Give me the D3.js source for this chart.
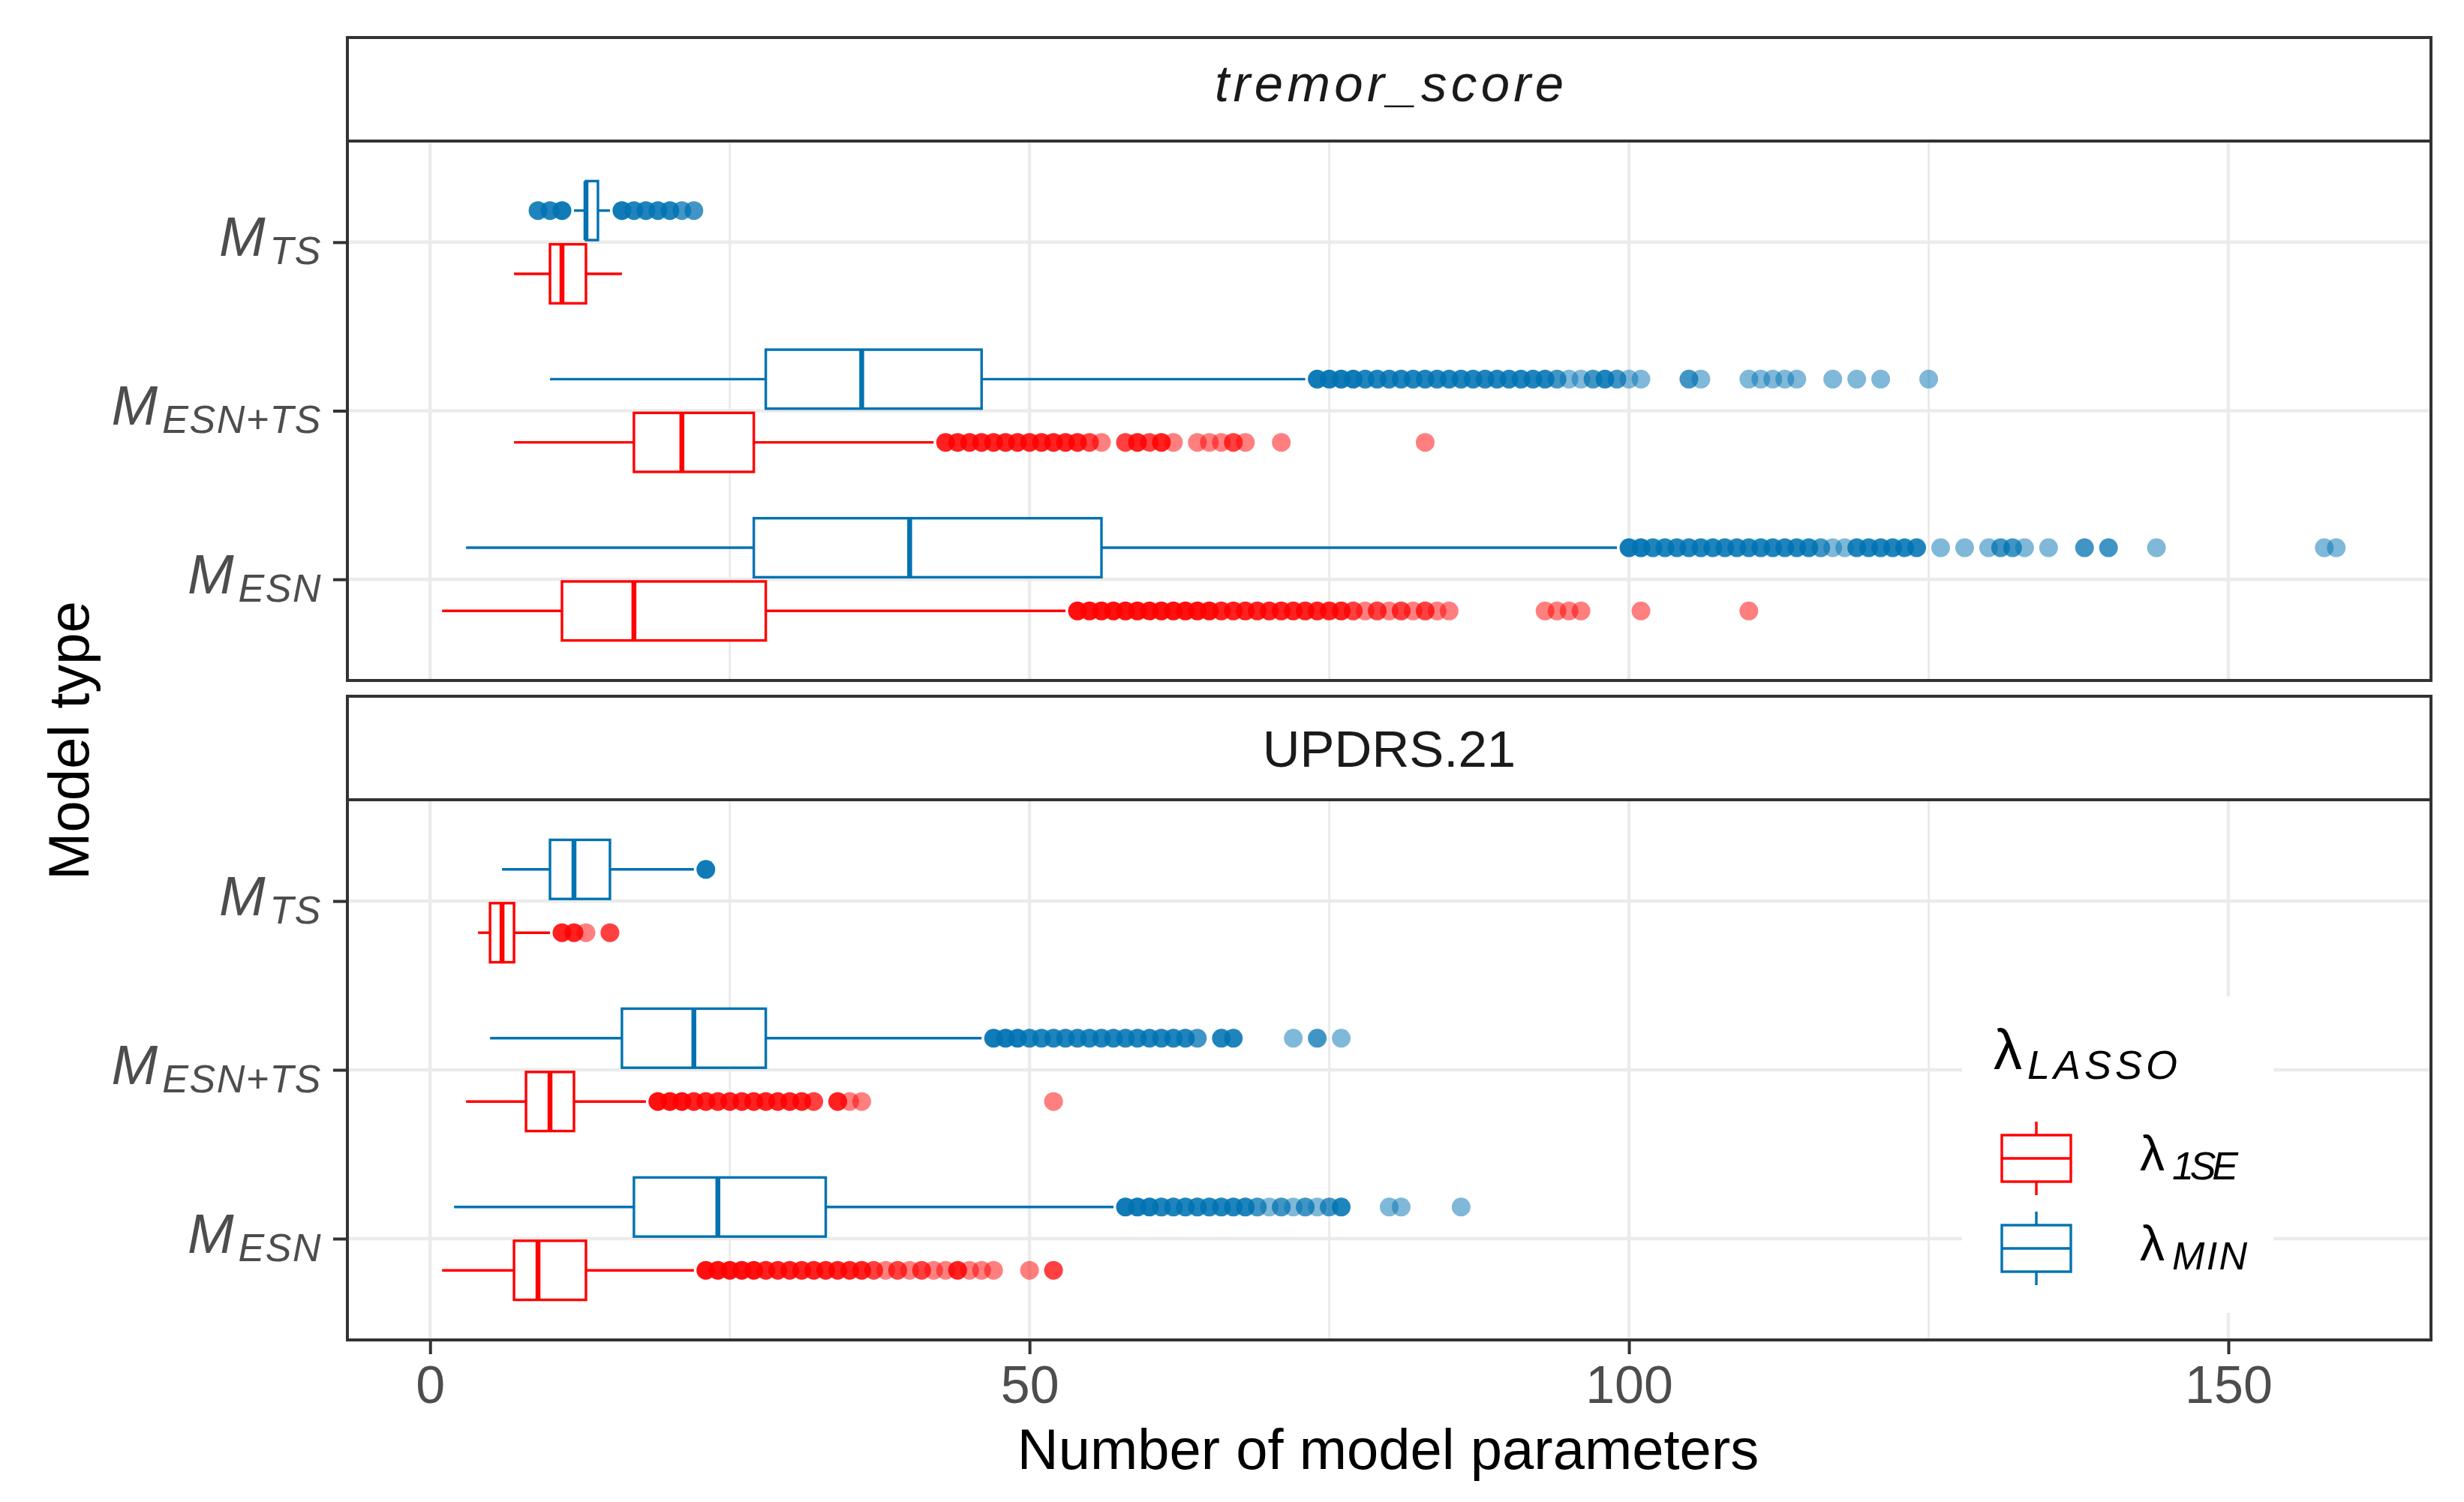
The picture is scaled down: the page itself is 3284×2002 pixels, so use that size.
<!DOCTYPE html>
<html><head><meta charset="utf-8">
<script src="https://cdn.jsdelivr.net/npm/d3@7"></script>
<style>body{margin:0;background:#fff} svg{display:block}</style>
</head><body>
<svg id="chart" width="3284" height="2002"></svg>
<script>
// ---------------- DATA ----------------
const facets = ["tremor_score", "UPDRS.21"];
const modelTypes = ["M_TS", "M_ESN+TS", "M_ESN"];          // top to bottom
const modelLabels = { "M_TS": ["M", "TS"], "M_ESN+TS": ["M", "ESN+TS"], "M_ESN": ["M", "ESN"] };
const lambdaKeys = ["1SE", "MIN"];
const xTicks = [0, 50, 100, 150];
const xMinorTicks = [25, 75, 125];
const xTitle = "Number of model parameters";
const yTitle = "Model type";

// [lower whisker, Q1, median, Q3, upper whisker] per model type (order of modelTypes)
const tremor1SE = [[7, 10, 11, 13, 16], [7, 17, 21, 27, 42], [1, 11, 17, 28, 53]];
const tremorMIN = [[12, 13, 13, 14, 15], [10, 28, 36, 46, 73], [3, 27, 40, 56, 99]];
const updrs1SE  = [[4, 5, 6, 7, 10], [3, 8, 10, 12, 18], [1, 7, 9, 13, 22]];
const updrsMIN  = [[6, 10, 12, 15, 22], [5, 16, 22, 28, 46], [2, 17, 24, 33, 57]];

// outliers: [value, number of overlapping observations]
const tremor1SEOut = [
  [],
  [[43,3],[44,3],[45,3],[46,3],[47,3],[48,3],[49,3],[50,3],[51,3],[52,3],[53,3],[54,3],[55,2],[56,1],
   [58,2],[59,3],[60,2],[61,3],[62,1],[64,1],[65,1],[66,1],[67,2],[68,1],[71,1],[83,1]],
  [[54,4],[55,4],[56,4],[57,4],[58,4],[59,4],[60,4],[61,4],[62,4],[63,4],[64,4],[65,4],[66,3],[67,3],
   [68,3],[69,3],[70,3],[71,3],[72,3],[73,3],[74,3],[75,3],[76,3],[77,2],[78,1],[79,2],[80,1],[81,2],
   [82,1],[83,2],[84,1],[85,1],[93,1],[94,1],[95,1],[96,1],[101,1],[110,1]]
];
const tremorMINOut = [
  [[9,3],[10,3],[11,4],[16,4],[17,3],[18,3],[19,3],[20,3],[21,2],[22,2]],
  [[74,4],[75,4],[76,4],[77,4],[78,3],[79,3],[80,3],[81,3],[82,3],[83,3],[84,3],[85,3],[86,3],[87,3],
   [88,3],[89,3],[90,3],[91,3],[92,3],[93,3],[94,2],[95,1],[96,1],[97,2],[98,3],[99,2],[100,1],[101,1],
   [105,2],[106,1],[110,1],[111,1],[112,1],[113,1],[114,1],[117,1],[119,1],[121,1],[125,1]],
  [[100,4],[101,4],[102,3],[103,3],[104,3],[105,3],[106,3],[107,3],[108,3],[109,3],[110,3],[111,3],
   [112,3],[113,3],[114,3],[115,3],[116,2],[117,1],[118,1],[119,3],[120,3],[121,3],[122,3],[123,3],
   [124,3],[126,1],[128,1],[130,1],[131,2],[132,2],[133,1],[135,1],[138,2],[140,2],[144,1],[158,1],[159,1]]
];
const updrs1SEOut = [
  [[11,3],[12,3],[13,1],[15,2]],
  [[19,4],[20,4],[21,4],[22,3],[23,3],[24,3],[25,3],[26,3],[27,3],[28,3],[29,3],[30,3],[31,3],[32,2],
   [34,3],[35,1],[36,1],[52,1]],
  [[23,4],[24,4],[25,4],[26,4],[27,4],[28,3],[29,3],[30,3],[31,3],[32,3],[33,3],[34,3],[35,3],[36,3],
   [37,2],[38,1],[39,2],[40,1],[41,2],[42,1],[43,1],[44,3],[45,1],[46,1],[47,1],[50,1],[52,2]]
];
const updrsMINOut = [
  [[23,4]],
  [[47,4],[48,4],[49,4],[50,3],[51,3],[52,3],[53,3],[54,3],[55,3],[56,3],[57,3],[58,3],[59,3],[60,3],
   [61,3],[62,3],[63,3],[64,2],[66,3],[67,3],[72,1],[74,2],[76,1]],
  [[58,4],[59,4],[60,4],[61,3],[62,3],[63,3],[64,3],[65,3],[66,3],[67,3],[68,3],[69,2],[70,1],[71,2],
   [72,1],[73,2],[74,1],[75,2],[76,3],[80,1],[81,1],[86,1]]
];

const facetStats = { "tremor_score": { "1SE": tremor1SE, "MIN": tremorMIN }, "UPDRS.21": { "1SE": updrs1SE, "MIN": updrsMIN } };
const facetOut   = { "tremor_score": { "1SE": tremor1SEOut, "MIN": tremorMINOut }, "UPDRS.21": { "1SE": updrs1SEOut, "MIN": updrsMINOut } };

// ---------------- STYLE / LAYOUT ----------------
const FONT = "'Liberation Sans', Arial, Helvetica, sans-serif";
const colors = { "1SE": "#FF0000", "MIN": "#0072B2" };
const L = { left: 463, right: 3240, strips: [[50, 188], [928, 1066]], panels: [[188, 907], [1066, 1786]] };
const GRID = "#EBEBEB", BORDER = "#333333", AXTXT = "#4D4D4D";

const svg = d3.select("#chart").attr("font-family", FONT);
svg.append("rect").attr("width", 3284).attr("height", 2002).attr("fill", "#fff");

// x scale (ggplot-style 5% expansion)
const allVals = [];
facets.forEach(f => lambdaKeys.forEach(k => {
  facetStats[f][k].forEach(s => allVals.push(...s));
  facetOut[f][k].forEach(o => o.forEach(p => allVals.push(p[0])));
}));
const vmin = d3.min(allVals), vmax = d3.max(allVals), pad = 0.05 * (vmax - vmin);
const x = d3.scaleLinear().domain([vmin - pad, vmax + pad]).range([L.left, L.right]);

facets.forEach((f, i) => {
  const [pt, pb] = L.panels[i];
  const y = d3.scalePoint().domain(modelTypes).range([pt, pb]).padding(0.6);
  const step = y.step();
  const g = svg.append("g");

  g.append("rect").attr("x", L.left).attr("y", pt).attr("width", L.right - L.left).attr("height", pb - pt).attr("fill", "#fff");
  // grid
  g.selectAll(".gmin").data(xMinorTicks).join("line")
    .attr("x1", d => x(d)).attr("x2", d => x(d)).attr("y1", pt).attr("y2", pb)
    .attr("stroke", GRID).attr("stroke-width", 3);
  g.selectAll(".gmaj").data(xTicks).join("line")
    .attr("x1", d => x(d)).attr("x2", d => x(d)).attr("y1", pt).attr("y2", pb)
    .attr("stroke", GRID).attr("stroke-width", 4.5);
  g.selectAll(".gy").data(modelTypes).join("line")
    .attr("x1", L.left).attr("x2", L.right).attr("y1", d => y(d)).attr("y2", d => y(d))
    .attr("stroke", GRID).attr("stroke-width", 4.5);

  // boxplots
  lambdaKeys.forEach((k) => {
    const col = colors[k];
    const sign = k === "1SE" ? 1 : -1;
    modelTypes.forEach((m, j) => {
      const s = facetStats[f][k][j];
      const outs = facetOut[f][k][j];
      const cy = y(m) + sign * 0.1875 * step;
      const hh = 0.175 * step;
      const bg = g.append("g");
      bg.selectAll("circle").data(outs).join("circle")
        .attr("cx", d => x(d[0])).attr("cy", cy).attr("r", 12.5)
        .attr("fill", col).attr("fill-opacity", d => 1 - Math.pow(0.5, d[1]));
      bg.append("line").attr("x1", x(s[0])).attr("x2", x(s[1])).attr("y1", cy).attr("y2", cy)
        .attr("stroke", col).attr("stroke-width", 3.4);
      bg.append("line").attr("x1", x(s[3])).attr("x2", x(s[4])).attr("y1", cy).attr("y2", cy)
        .attr("stroke", col).attr("stroke-width", 3.4);
      bg.append("rect").attr("x", x(s[1])).attr("y", cy - hh).attr("width", x(s[3]) - x(s[1])).attr("height", 2 * hh)
        .attr("fill", "#fff").attr("stroke", col).attr("stroke-width", 3.4);
      bg.append("line").attr("x1", x(s[2])).attr("x2", x(s[2])).attr("y1", cy - hh).attr("y2", cy + hh)
        .attr("stroke", col).attr("stroke-width", 6.5);
    });
  });

  // panel border
  g.append("rect").attr("x", L.left).attr("y", pt).attr("width", L.right - L.left).attr("height", pb - pt)
    .attr("fill", "none").attr("stroke", BORDER).attr("stroke-width", 4);

  // strip
  const [st, sb] = L.strips[i];
  g.append("rect").attr("x", L.left).attr("y", st).attr("width", L.right - L.left).attr("height", sb - st)
    .attr("fill", "#fff").attr("stroke", BORDER).attr("stroke-width", 4);
  const stxt = g.append("text").attr("x", (L.left + L.right) / 2).attr("text-anchor", "middle")
    .attr("fill", "#1A1A1A").attr("font-size", 69).text(f);
  if (i === 0) {
    stxt.attr("y", 135).attr("font-style", "italic").attr("textLength", 465).attr("lengthAdjust", "spacing");
  } else {
    stxt.attr("y", 1022);
  }

  // y axis
  g.append("g").attr("transform", `translate(${L.left},0)`)
    .call(d3.axisLeft(y).tickSize(19).tickPadding(15).tickFormat(""))
    .call(a => a.select(".domain").remove())
    .call(a => a.selectAll(".tick line").attr("stroke", BORDER).attr("stroke-width", 4))
    .call(a => a.selectAll(".tick text").each(function (d) {
      const t = d3.select(this);
      t.text(null).attr("dy", null).attr("y", 18).attr("font-size", 74).attr("font-style", "italic")
        .attr("fill", AXTXT).attr("font-family", FONT);
      t.append("tspan").text(modelLabels[d][0]);
      t.append("tspan").attr("font-size", 52).attr("dx", 6).attr("dy", 11).attr("letter-spacing", 1.5).text(modelLabels[d][1]);
    }));
});

// x axis (bottom panel)
svg.append("g").attr("transform", `translate(0,${L.panels[1][1]})`)
  .call(d3.axisBottom(x).tickValues(xTicks).tickSize(19).tickPadding(15))
  .call(a => a.select(".domain").remove())
  .call(a => a.selectAll(".tick line").attr("stroke", BORDER).attr("stroke-width", 4))
  .call(a => a.selectAll(".tick text").attr("font-size", 70).attr("fill", AXTXT).attr("font-family", FONT));

// axis titles
svg.append("text").attr("x", 1850).attr("y", 1958).attr("text-anchor", "middle")
  .attr("font-size", 76).attr("fill", "#000").text(xTitle);
svg.append("text").attr("transform", "translate(118,987) rotate(-90)").attr("text-anchor", "middle")
  .attr("font-size", 76).attr("fill", "#000").text(yTitle);

// legend
const lg = svg.append("g");
lg.append("rect").attr("x", 2615).attr("y", 1328).attr("width", 415).attr("height", 422).attr("fill", "#fff");
lg.append("text").attr("x", 2657).attr("y", 1425).attr("fill", "#000").attr("font-size", 76).text("λ");
lg.append("text").attr("x", 2702).attr("y", 1438).attr("font-size", 54).attr("font-style", "italic")
  .attr("textLength", 200).attr("lengthAdjust", "spacing").attr("fill", "#000").text("LASSO");
const keyTop = { "1SE": 1513, "MIN": 1633 };
const keyLbl = { "1SE": ["λ", "1SE", 88], "MIN": ["λ", "MIN", 100] };
lambdaKeys.forEach(k => {
  const t0 = keyTop[k], col = colors[k], cx = 2714;
  lg.append("line").attr("x1", cx).attr("x2", cx).attr("y1", t0 - 18).attr("y2", t0).attr("stroke", col).attr("stroke-width", 3.4);
  lg.append("line").attr("x1", cx).attr("x2", cx).attr("y1", t0 + 62).attr("y2", t0 + 80).attr("stroke", col).attr("stroke-width", 3.4);
  lg.append("rect").attr("x", 2668).attr("y", t0).attr("width", 92).attr("height", 62)
    .attr("fill", "#fff").attr("stroke", col).attr("stroke-width", 3.4);
  lg.append("line").attr("x1", 2668).attr("x2", 2760).attr("y1", t0 + 31).attr("y2", t0 + 31).attr("stroke", col).attr("stroke-width", 3.4);
  lg.append("text").attr("x", 2852).attr("y", t0 + 47).attr("font-size", 66).attr("fill", "#000").text(keyLbl[k][0]);
  lg.append("text").attr("x", 2895).attr("y", t0 + 59).attr("font-size", 52).attr("font-style", "italic")
    .attr("textLength", keyLbl[k][2]).attr("lengthAdjust", "spacing").attr("fill", "#000").text(keyLbl[k][1]);
});
</script>
</body></html>
